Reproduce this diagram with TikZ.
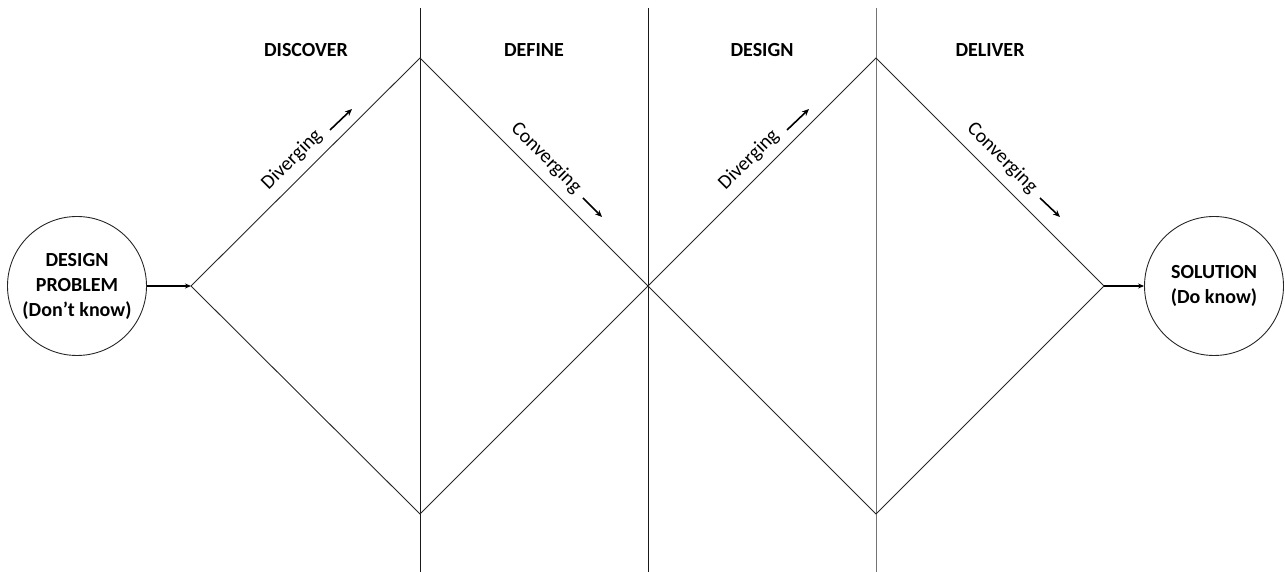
\documentclass[tikz,border=0pt]{standalone}
\usepackage{fontspec}
\setmainfont{Carlito}
\usetikzlibrary{arrows.meta}
\begin{document}
\begin{tikzpicture}[x=1pt,y=1pt,
  ln/.style={line width=0.9pt,draw=black!85},
  vline/.style={line width=0.9pt,draw=black!90},
  bubble/.style={circle,draw=black!85,line width=0.9pt,minimum size=139pt,inner sep=0pt,align=center,font=\fontsize{20}{25}\selectfont\bfseries},
  head/.style={font=\fontsize{20}{24}\selectfont\bfseries},
  dlabel/.style={font=\fontsize{20}{24}\selectfont,inner sep=0pt},
  arr/.style={line width=1.6pt,-{Stealth[length=7pt,width=6pt]}},
  conn/.style={line width=1.2pt,-{Stealth[length=6pt,width=5pt]}}
]
\useasboundingbox (0,0) rectangle (1285,572);
% vertical separators
\coordinate (v1t) at (420,564); \coordinate (v1b) at (420,0);
\coordinate (v2t) at (648,564); \coordinate (v2b) at (648,0);
\coordinate (v3t) at (876,564); \coordinate (v3b) at (876,0);
\draw[vline] (v1t) -- (v1b);
\draw[vline] (v2t) -- (v2b);
\draw[vline,draw=black!55] (v3t) -- (v3b);
% diamonds
\coordinate (L1) at (191,286);
\coordinate (T1) at (420,514);
\coordinate (B1) at (420,58);
\coordinate (M) at (648,286);
\coordinate (T2) at (876,514);
\coordinate (B2) at (876,58);
\coordinate (R2) at (1104,286);
\draw[ln] (L1) -- (T1) -- (M) -- (B1) -- cycle;
\draw[ln] (M) -- (T2) -- (R2) -- (B2) -- cycle;
% headers
\node[head] (h1) at (306,522) {DISCOVER};
\node[head] (h2) at (534,522) {DEFINE};
\node[head] (h3) at (762,522) {DESIGN};
\node[head] (h4) at (990,522) {DELIVER};
% circles
\node[bubble] (prob) at (77,286) {DESIGN\\PROBLEM\\(Don\char"27 t know)};
\node[bubble] (sol) at (1214,286) {SOLUTION\\(Do know)};
\draw[conn] (prob.east) -- (L1);
\draw[conn] (R2) -- (sol.west);
% diagonal labels
\node[dlabel,rotate=45] (d1) at (292,412) {Diverging};
\node[dlabel,rotate=-45] (c1) at (546,414) {Converging};
\node[dlabel,rotate=45] (d2) at (749,412) {Diverging};
\node[dlabel,rotate=-45] (c2) at (1002,414) {Converging};
\coordinate (d1a) at (330,442); \coordinate (d1b) at (352,463);
\coordinate (c1a) at (583,374); \coordinate (c1b) at (602,355);
\coordinate (d2a) at (787,442); \coordinate (d2b) at (809,463);
\coordinate (c2a) at (1040,374); \coordinate (c2b) at (1060,355);
\draw[arr] (d1a) -- (d1b);
\draw[arr] (c1a) -- (c1b);
\draw[arr] (d2a) -- (d2b);
\draw[arr] (c2a) -- (c2b);
\end{tikzpicture}
\end{document}
